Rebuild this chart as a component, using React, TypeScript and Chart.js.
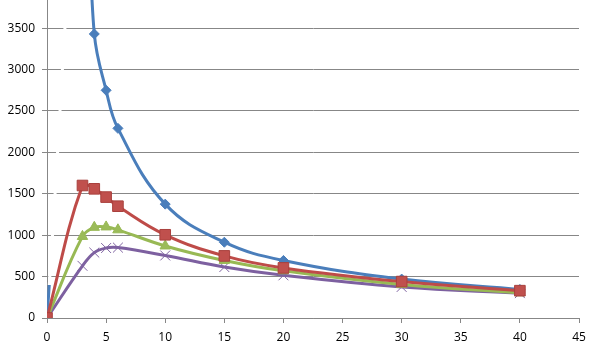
import React, { useEffect, useRef } from "react";
import { Chart, registerables } from "chart.js";

Chart.register(...registerables);

const xValues = [0, 3, 4, 5, 6, 10, 15, 20, 30, 40];
const blueValues = [0, 6000, 3430, 2750, 2290, 1375, 915, 695, 470, 345];
const redValues = [0, 1600, 1560, 1460, 1350, 1005, 750, 605, 440, 330];
const greenValues = [0, 985, 1095, 1100, 1065, 870, 695, 570, 405, 305];
const purpleValues = [0, 630, 790, 845, 850, 755, 615, 515, 375, 300];

const xTicks = [0, 5, 10, 15, 20, 25, 30, 35, 40, 45];
const yTicks = [0, 500, 1000, 1500, 2000, 2500, 3000, 3500];

const toPoints = (vals: number[]) => xValues.map((x, i) => ({ x, y: vals[i] }));

export default function App() {
  const ref = useRef<HTMLCanvasElement | null>(null);

  useEffect(() => {
    if (!ref.current) return;
    const gridColor = "#878787";
    const font = { family: "'Open Sans', 'Liberation Sans', sans-serif", size: 12 };

    const blueSegment = (ctx: any) => {
      if (ctx.p0DataIndex !== 0) return undefined;
      const chart = ctx.chart;
      if (!chart || !chart.scales || !chart.scales.y) return "rgba(0,0,0,0)";
      const yCut = chart.scales.y.getPixelForValue(400);
      const g = chart.ctx.createLinearGradient(0, yCut + 1, 0, yCut - 1);
      g.addColorStop(0, "#4A7EBB");
      g.addColorStop(0.5, "#4A7EBB");
      g.addColorStop(0.5, "#FFFFFF");
      g.addColorStop(1, "#FFFFFF");
      return g;
    };

    const chart = new Chart(ref.current, {
      type: "line",
      data: {
        datasets: [
          {
            label: "S1",
            data: toPoints(blueValues),
            borderColor: "#4A7EBB",
            backgroundColor: "#4A7EBB",
            borderWidth: 3,
            pointStyle: "rectRot",
            pointRadius: [0, 0, 5, 5, 5, 5, 5, 5, 5, 5],
            pointBorderWidth: 1,
            tension: 0.4,
            segment: { borderColor: blueSegment },
            order: 4,
          },
          {
            label: "S2",
            data: toPoints(redValues),
            borderColor: "#BE4B48",
            backgroundColor: "#C0504D",
            pointBorderColor: "#A9403D",
            borderWidth: 3,
            pointStyle: "rect",
            pointRadius: 7.5,
            pointBorderWidth: 1,
            tension: 0.4,
            order: 1,
          },
          {
            label: "S3",
            data: toPoints(greenValues),
            borderColor: "#98B954",
            backgroundColor: "#9BBB59",
            borderWidth: 3,
            pointStyle: "triangle",
            pointRadius: 6,
            pointBorderWidth: 1,
            tension: 0.4,
            order: 2,
          },
          {
            label: "S4",
            data: toPoints(purpleValues),
            borderColor: "#7D60A0",
            backgroundColor: "#8064A2",
            pointBorderColor: "#8064A2",
            borderWidth: 3,
            pointStyle: "crossRot",
            pointRadius: 7,
            pointBorderWidth: 1,
            tension: 0.4,
            order: 3,
          },
        ],
      },
      options: {
        animation: false,
        responsive: false,
        devicePixelRatio: 1,
        layout: { autoPadding: false, padding: { top: 0, right: 11, left: 0, bottom: 0 } },
        plugins: { legend: { display: false }, tooltip: { enabled: false } },
        scales: {
          x: {
            type: "linear",
            min: 0,
            max: 45,
            afterBuildTicks: (scale: any) => {
              scale.ticks = xTicks.map((v) => ({ value: v }));
            },
            afterFit: (scale: any) => {
              scale.height = 42;
              scale.paddingLeft = 0;
              scale.paddingRight = 0;
            },
            ticks: { color: "#000", font, padding: 7, maxRotation: 0, autoSkip: false, callback: (v: any) => String(v) },
            grid: { drawOnChartArea: false, drawTicks: true, tickLength: 5, color: gridColor },
            border: { color: gridColor, width: 1 },
          },
          y: {
            type: "linear",
            min: 0,
            max: 3840,
            afterBuildTicks: (scale: any) => {
              scale.ticks = yTicks.map((v) => ({ value: v }));
            },
            afterFit: (scale: any) => {
              scale.width = 47;
              scale.paddingTop = 0;
              scale.paddingBottom = 0;
            },
            ticks: { color: "#000", font, padding: 7, callback: (v: any) => String(v) },
            grid: { color: gridColor, lineWidth: 1, tickLength: 5 },
            border: { color: gridColor, width: 1 },
          },
        },
      },
    } as any);
    return () => chart.destroy();
  }, []);

  return (
    <div style={{ position: "absolute", left: 0, top: 0, width: 590, height: 360, background: "#fff" }}>
      <canvas ref={ref} width={590} height={360} style={{ display: "block", width: 590, height: 360 }} />
    </div>
  );
}
